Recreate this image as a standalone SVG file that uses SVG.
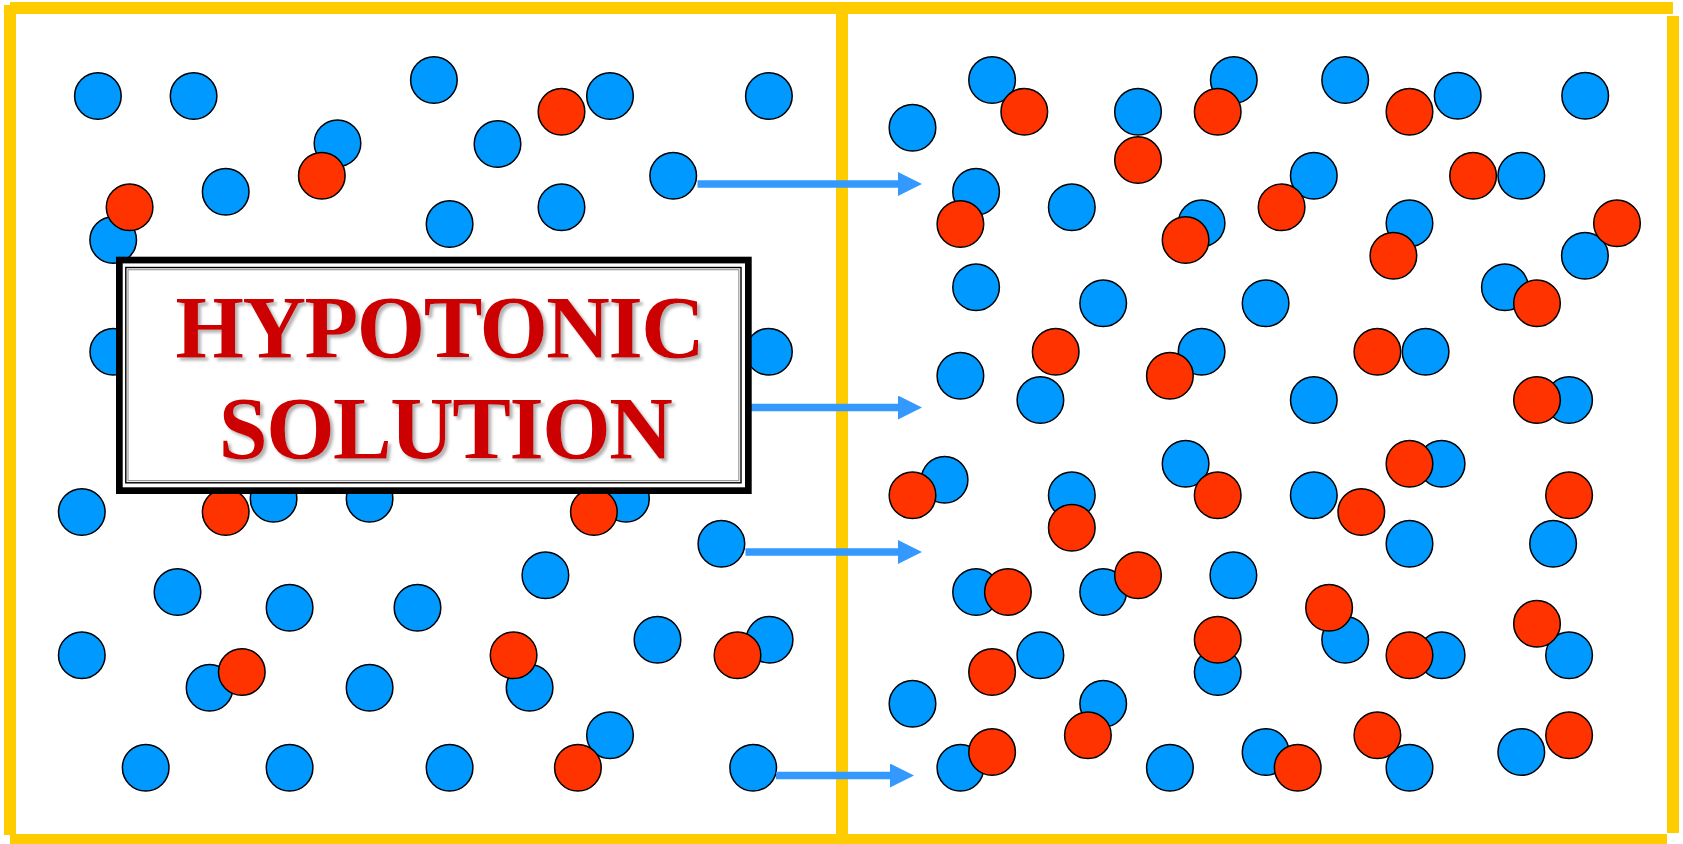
<svg xmlns="http://www.w3.org/2000/svg" width="1683" height="844" viewBox="0 0 1683 844">
<style>
.b{fill:#0099FF;stroke:#000;stroke-width:1.5}
.r{fill:#FF3300;stroke:#000;stroke-width:1.5}
.wall{fill:#FFCC00}
.arr{stroke:#3399FF;stroke-width:7.7;fill:none}
.lbl{font-family:"Liberation Serif","Times New Roman",serif;font-weight:bold;font-size:88px;fill:#CC0000;letter-spacing:-1.5px}
</style>
<defs>
<marker id="ah" markerUnits="userSpaceOnUse" markerWidth="24" markerHeight="24" refX="0" refY="12" orient="auto" viewBox="0 0 24 24">
<path d="M0,0 L24,12 L0,24 Z" fill="#3399FF"/>
</marker>
<filter id="sh" x="-10%" y="-20%" width="130%" height="150%">
<feGaussianBlur in="SourceAlpha" stdDeviation="1.6"/>
<feOffset dx="3" dy="3" result="o"/>
<feFlood flood-color="#808080" flood-opacity="0.6"/>
<feComposite in2="o" operator="in" result="s"/>
<feMerge><feMergeNode in="s"/><feMergeNode in="SourceGraphic"/></feMerge>
</filter>
</defs>
<rect width="1683" height="844" fill="#fff"/>
<g id="container">
<rect class="wall" x="10" y="2" width="1663" height="12"/>
<rect class="wall" x="4" y="5" width="12" height="830"/>
<rect class="wall" x="10" y="834" width="1657" height="12"/>
<rect class="wall" x="1667" y="16" width="12" height="817"/>
<rect class="wall" x="836" y="14" width="12" height="821"/>
</g>
<g id="left-blue">
<circle class="b" cx="97.9" cy="96" r="23.3"/>
<circle class="b" cx="193.6" cy="96" r="23.3"/>
<circle class="b" cx="433.9" cy="80" r="23.3"/>
<circle class="b" cx="337.5" cy="143.3" r="23.3"/>
<circle class="b" cx="497.5" cy="144" r="23.3"/>
<circle class="b" cx="610" cy="96" r="23.3"/>
<circle class="b" cx="768.9" cy="96" r="23.3"/>
<circle class="b" cx="225.7" cy="191.7" r="23.3"/>
<circle class="b" cx="449.6" cy="224" r="23.3"/>
<circle class="b" cx="561.5" cy="207.3" r="23.3"/>
<circle class="b" cx="673.2" cy="175.7" r="23.3"/>
<circle class="b" cx="113.2" cy="240" r="23.3"/>
<circle class="b" cx="113.3" cy="351.7" r="23.3"/>
<circle class="b" cx="768.9" cy="351.7" r="23.3"/>
<circle class="b" cx="81.8" cy="512" r="23.3"/>
<circle class="b" cx="273.6" cy="498.7" r="23.3"/>
<circle class="b" cx="369.6" cy="498.7" r="23.3"/>
<circle class="b" cx="626" cy="498.7" r="23.3"/>
<circle class="b" cx="721.4" cy="543.7" r="23.3"/>
<circle class="b" cx="545.4" cy="575.3" r="23.3"/>
<circle class="b" cx="177.5" cy="592" r="23.3"/>
<circle class="b" cx="289.6" cy="607.7" r="23.3"/>
<circle class="b" cx="417.5" cy="607.7" r="23.3"/>
<circle class="b" cx="657.5" cy="639.7" r="23.3"/>
<circle class="b" cx="769.6" cy="639.7" r="23.3"/>
<circle class="b" cx="81.8" cy="655.3" r="23.3"/>
<circle class="b" cx="209.6" cy="687.7" r="23.3"/>
<circle class="b" cx="369.6" cy="687.7" r="23.3"/>
<circle class="b" cx="529.6" cy="687.7" r="23.3"/>
<circle class="b" cx="610" cy="735.3" r="23.3"/>
<circle class="b" cx="145.7" cy="767.7" r="23.3"/>
<circle class="b" cx="289.6" cy="767.7" r="23.3"/>
<circle class="b" cx="449.6" cy="767.7" r="23.3"/>
<circle class="b" cx="753.2" cy="767.7" r="23.3"/>
</g>
<g id="left-red">
<circle class="r" cx="561.5" cy="111.7" r="23.3"/>
<circle class="r" cx="321.8" cy="175.7" r="23.3"/>
<circle class="r" cx="129.6" cy="207.3" r="23.3"/>
<circle class="r" cx="225.7" cy="512" r="23.3"/>
<circle class="r" cx="593.9" cy="512" r="23.3"/>
<circle class="r" cx="737.5" cy="655.3" r="23.3"/>
<circle class="r" cx="241.8" cy="672" r="23.3"/>
<circle class="r" cx="513.6" cy="655.3" r="23.3"/>
<circle class="r" cx="577.9" cy="767.7" r="23.3"/>
</g>
<g id="right-blue">
<circle class="b" cx="912.5" cy="127.7" r="23.3"/>
<circle class="b" cx="992.1" cy="80" r="23.3"/>
<circle class="b" cx="1138" cy="111.7" r="23.3"/>
<circle class="b" cx="1233.8" cy="80" r="23.3"/>
<circle class="b" cx="1345.2" cy="80" r="23.3"/>
<circle class="b" cx="1457.7" cy="95.7" r="23.3"/>
<circle class="b" cx="1585.2" cy="95.7" r="23.3"/>
<circle class="b" cx="976.1" cy="191.7" r="23.3"/>
<circle class="b" cx="1071.8" cy="207.3" r="23.3"/>
<circle class="b" cx="1313.8" cy="175.7" r="23.3"/>
<circle class="b" cx="1521.3" cy="175.7" r="23.3"/>
<circle class="b" cx="1201.6" cy="223.3" r="23.3"/>
<circle class="b" cx="1409.5" cy="223.3" r="23.3"/>
<circle class="b" cx="1584.9" cy="255.7" r="23.3"/>
<circle class="b" cx="976.1" cy="287.3" r="23.3"/>
<circle class="b" cx="1103.2" cy="303.3" r="23.3"/>
<circle class="b" cx="1265.6" cy="303.3" r="23.3"/>
<circle class="b" cx="1504.9" cy="287.3" r="23.3"/>
<circle class="b" cx="960.4" cy="375.7" r="23.3"/>
<circle class="b" cx="1040.4" cy="400" r="23.3"/>
<circle class="b" cx="1201.6" cy="351.7" r="23.3"/>
<circle class="b" cx="1425.6" cy="351.7" r="23.3"/>
<circle class="b" cx="1313.8" cy="400" r="23.3"/>
<circle class="b" cx="1569.1" cy="400" r="23.3"/>
<circle class="b" cx="944.6" cy="479.7" r="23.3"/>
<circle class="b" cx="1071.8" cy="495.3" r="23.3"/>
<circle class="b" cx="1185.6" cy="463.7" r="23.3"/>
<circle class="b" cx="1441.6" cy="463.7" r="23.3"/>
<circle class="b" cx="1313.8" cy="495.3" r="23.3"/>
<circle class="b" cx="976.1" cy="592" r="23.3"/>
<circle class="b" cx="1103.2" cy="592" r="23.3"/>
<circle class="b" cx="1233.4" cy="575.3" r="23.3"/>
<circle class="b" cx="1409.5" cy="543.7" r="23.3"/>
<circle class="b" cx="1553.1" cy="543.7" r="23.3"/>
<circle class="b" cx="1040.4" cy="655.3" r="23.3"/>
<circle class="b" cx="1345.2" cy="639.7" r="23.3"/>
<circle class="b" cx="1217.7" cy="672" r="23.3"/>
<circle class="b" cx="1441.6" cy="655.3" r="23.3"/>
<circle class="b" cx="1569.1" cy="655.3" r="23.3"/>
<circle class="b" cx="912.5" cy="703.7" r="23.3"/>
<circle class="b" cx="1103.2" cy="703.7" r="23.3"/>
<circle class="b" cx="960.4" cy="767.7" r="23.3"/>
<circle class="b" cx="1169.9" cy="767.7" r="23.3"/>
<circle class="b" cx="1265.6" cy="752" r="23.3"/>
<circle class="b" cx="1409.5" cy="767.7" r="23.3"/>
<circle class="b" cx="1521.3" cy="752" r="23.3"/>
</g>
<g id="right-red">
<circle class="r" cx="1024.3" cy="111.7" r="23.3"/>
<circle class="r" cx="1138" cy="160" r="23.3"/>
<circle class="r" cx="1217.7" cy="111.7" r="23.3"/>
<circle class="r" cx="1409.5" cy="111.7" r="23.3"/>
<circle class="r" cx="960.4" cy="224" r="23.3"/>
<circle class="r" cx="1281.6" cy="207.3" r="23.3"/>
<circle class="r" cx="1473.1" cy="175.7" r="23.3"/>
<circle class="r" cx="1185.6" cy="240" r="23.3"/>
<circle class="r" cx="1393.4" cy="255.7" r="23.3"/>
<circle class="r" cx="1617" cy="223.3" r="23.3"/>
<circle class="r" cx="1537" cy="303.3" r="23.3"/>
<circle class="r" cx="1055.7" cy="351.7" r="23.3"/>
<circle class="r" cx="1169.9" cy="375.7" r="23.3"/>
<circle class="r" cx="1377.4" cy="351.7" r="23.3"/>
<circle class="r" cx="1537" cy="400" r="23.3"/>
<circle class="r" cx="912.5" cy="495.3" r="23.3"/>
<circle class="r" cx="1071.8" cy="527.7" r="23.3"/>
<circle class="r" cx="1217.7" cy="495.3" r="23.3"/>
<circle class="r" cx="1409.5" cy="463.7" r="23.3"/>
<circle class="r" cx="1361.3" cy="512" r="23.3"/>
<circle class="r" cx="1569.1" cy="495.3" r="23.3"/>
<circle class="r" cx="1007.9" cy="592" r="23.3"/>
<circle class="r" cx="1138" cy="575.3" r="23.3"/>
<circle class="r" cx="1329.1" cy="607.7" r="23.3"/>
<circle class="r" cx="1217.7" cy="639.7" r="23.3"/>
<circle class="r" cx="1409.5" cy="655.3" r="23.3"/>
<circle class="r" cx="1537" cy="623.7" r="23.3"/>
<circle class="r" cx="992.1" cy="672" r="23.3"/>
<circle class="r" cx="1087.9" cy="735.3" r="23.3"/>
<circle class="r" cx="992.1" cy="752" r="23.3"/>
<circle class="r" cx="1297.7" cy="767.7" r="23.3"/>
<circle class="r" cx="1377.4" cy="735.3" r="23.3"/>
<circle class="r" cx="1569.1" cy="735.3" r="23.3"/>
</g>
<g id="connectors">
<line class="arr" x1="697.5" y1="184" x2="898" y2="184" marker-end="url(#ah)"/>
<line class="arr" x1="751" y1="407.5" x2="898" y2="407.5" marker-end="url(#ah)"/>
<line class="arr" x1="745.5" y1="552" x2="898" y2="552" marker-end="url(#ah)"/>
<line class="arr" x1="776" y1="775.5" x2="890" y2="775.5" marker-end="url(#ah)"/>
</g>
<g id="label">
<rect x="119.35" y="260.05" width="629" height="230.6" fill="#fff" stroke="#000" stroke-width="6.7"/>
<rect x="125.8" y="267.5" width="615.2" height="215.3" fill="none" stroke="#000" stroke-width="1.4"/>
<rect x="128" y="269.7" width="610.8" height="210.9" fill="none" stroke="#9a9a9a" stroke-width="1.2"/>
<g filter="url(#sh)">
<text class="lbl" x="175.6" y="357.3">HYPOTONIC</text>
<text class="lbl" x="218.7" y="458.3">SOLUTION</text>
</g>
</g>
</svg>
